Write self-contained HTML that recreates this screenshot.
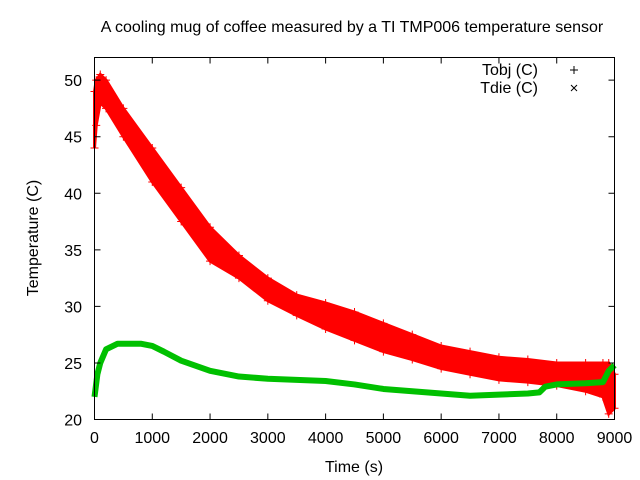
<!DOCTYPE html>
<html><head><meta charset="utf-8"><style>
body{margin:0;background:#fff}
svg{display:block;font-family:"Liberation Sans",sans-serif}
</style></head><body>
<svg id="chart" width="640" height="480" viewBox="0 0 640 480" xmlns="http://www.w3.org/2000/svg">
<rect width="640" height="480" fill="#fff"/>
<text x="352" y="32" font-size="16" text-anchor="middle" fill="#000">A cooling mug of coffee measured by a TI TMP006 temperature sensor</text>
<g id="marks"></g>
<g id="axes"></g>
<text x="354" y="472" font-size="16" text-anchor="middle">Time (s)</text>
<text transform="translate(38,238) rotate(-90)" font-size="16" text-anchor="middle">Temperature (C)</text>
<g>
<text x="538" y="75" font-size="16" text-anchor="end">Tobj (C)</text>
<path d="M570 70h8M574 66v8" stroke="#000" stroke-width="1"/>
<text x="538" y="93" font-size="16" text-anchor="end">Tdie (C)</text>
<path d="M571 85l6 6M577 85l-6 6" stroke="#000" stroke-width="1"/>
</g>
</svg>
<script>
const xTicks=[0,1000,2000,3000,4000,5000,6000,7000,8000,9000];
const yTicks=[20,25,30,35,40,45,50];
const tobjTimes=[0,30,100,200,500,1000,1500,2000,2500,3000,3500,4000,4500,5000,5500,6000,6500,7000,7500,8000,8500,8800,8900,9000];
const tobjLow=[44,46,48,47.5,45,41,37.5,34,32.5,30.5,29.2,28,27,26,25.3,24.5,24,23.5,23.3,23,22.5,22,20.5,21];
const tobjHigh=[49,50,50.5,50,47.5,44,40.5,37,34.5,32.5,31,30.3,29.5,28.5,27.5,26.5,26,25.5,25.3,25,25,25,25,24];
const tdieTimes=[0,50,100,200,400,800,1000,1200,1500,2000,2500,3000,3500,4000,4500,5000,5500,6000,6500,7000,7500,7700,7800,8000,8500,8800,8900,9000];
const tdieVals=[22,24,25,26.2,26.7,26.7,26.5,26,25.2,24.3,23.8,23.6,23.5,23.4,23.1,22.7,22.5,22.3,22.1,22.2,22.3,22.4,22.9,23.1,23.2,23.3,24.3,24.8];
const X0=94.5,X1=614.5,Y0=419.5,Y1=57.5,XMIN=0,XMAX=9000,YMIN=20,YMAX=52;
const sx=v=>X0+(v-XMIN)/(XMAX-XMIN)*(X1-X0);
const sy=v=>Y0-(v-YMIN)/(YMAX-YMIN)*(Y0-Y1);
const NS="http://www.w3.org/2000/svg";
const marks=document.getElementById('marks'),axes=document.getElementById('axes');
function mk(tag,parent){const e=document.createElementNS(NS,tag);parent.appendChild(e);return e;}
let pts=tobjTimes.map((t,i)=>sx(t)+','+sy(tobjHigh[i]));
for(let i=tobjTimes.length-1;i>=0;i--)pts.push(sx(tobjTimes[i])+','+sy(tobjLow[i]));
const band=mk('polygon',marks);


band.setAttribute('points',pts.join(' '));
band.setAttribute('fill','#ff0000');band.setAttribute('stroke','#ff0000');band.setAttribute('stroke-width','3');
tobjTimes.forEach((t,i)=>{[tobjLow[i],tobjHigh[i]].forEach(v=>{
 const p=mk('path',marks);
 
 
 const x=sx(t),y=sy(v);
 p.setAttribute('d',`M${x-4} ${y}h8M${x} ${y-4}v8`);p.setAttribute('stroke','#ff0000');});});
const g=mk('polyline',marks);


g.setAttribute('points',tdieTimes.map((t,i)=>sx(t)+','+sy(tdieVals[i])).join(' '));
g.setAttribute('fill','none');g.setAttribute('stroke','#00c000');g.setAttribute('stroke-width','6');g.setAttribute('stroke-linejoin','round');
const box=mk('rect',axes);


box.setAttribute('x',X0);box.setAttribute('y',Y1);box.setAttribute('width',X1-X0);box.setAttribute('height',Y0-Y1);
box.setAttribute('fill','none');box.setAttribute('stroke','#000');
xTicks.forEach(v=>{const x=sx(v);
 const t=mk('path',axes);
 
 
 t.setAttribute('d',`M${x} ${Y0}v-6M${x} ${Y1}v6`);t.setAttribute('stroke','#000');
 const l=mk('text',axes);
 
 
 l.setAttribute('x',x);l.setAttribute('y',443);l.setAttribute('font-size','16');l.setAttribute('text-anchor','middle');l.textContent=v;});
yTicks.forEach(v=>{const y=sy(v);
 const t=mk('path',axes);
 
 
 t.setAttribute('d',`M${X0} ${y}h6M${X1} ${y}h-6`);t.setAttribute('stroke','#000');
 const l=mk('text',axes);
 
 
 l.setAttribute('x',82);l.setAttribute('y',y+6);l.setAttribute('font-size','16');l.setAttribute('text-anchor','end');l.textContent=v;});
</script>
</body></html>
